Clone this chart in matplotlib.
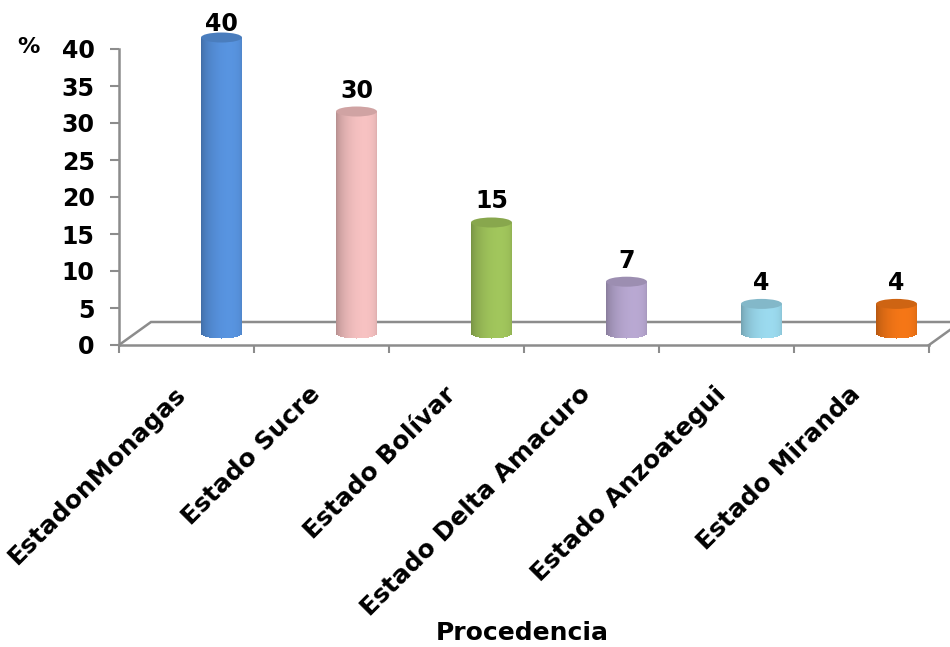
import numpy as np
import matplotlib
matplotlib.use("Agg")
import matplotlib.pyplot as plt
from matplotlib.patches import Ellipse
from matplotlib.colors import to_rgb
from matplotlib.transforms import offset_copy

categories = ["EstadonMonagas", "Estado Sucre", "Estado Bolívar",
              "Estado Delta Amacuro", "Estado Anzoategui", "Estado Miranda"]
values = [40, 30, 15, 7, 4, 4]
colors = ["#5691DC", "#F2BEBE", "#9EC25A", "#B5A5CE", "#98D6EA", "#F07416"]
yticks = [0, 5, 10, 15, 20, 25, 30, 35, 40]

plt.rcParams['font.family'] = ['DejaVu Sans']
plt.rcParams['font.weight'] = 'bold'

W, H = 950, 647
grey = "#8C8C8C"
fig = plt.figure(figsize=(W / 100, H / 100), dpi=100)
ax = fig.add_axes([119 / W, 1 - 345 / H, 810 / W, 296 / H])
ax.set_xlim(-0.5, len(categories) - 0.5)
ax.set_ylim(0, 40)
ppx = 810 / len(categories)   # pixels per category
ppy = 296 / 40                # pixels per percent

for s in ["top", "right"]:
    ax.spines[s].set_visible(False)
for s in ["left", "bottom"]:
    ax.spines[s].set_color(grey)
    ax.spines[s].set_linewidth(1.8)

ax.set_yticks(yticks)
ax.tick_params(axis='y', direction='out', length=6.5, width=1.5, color=grey,
               labelcolor='black', labelsize=17, pad=11)
ax.set_xticks(np.arange(-0.5, len(categories), 1))
ax.set_xticklabels([])
ax.tick_params(axis='x', direction='out', length=6, width=1.5, color=grey)

# 3d floor
dx, dy = 32 / ppx, 23 / ppy
x0, x1 = -0.5, len(categories) - 0.5
ax.plot([x0, x0 + dx, x1 + dx, x1], [0, dy, dy, 0], color=grey, lw=1.8,
        clip_on=False, zorder=1, solid_joinstyle='miter')

# cylinders
bx, by = 35 / ppx, 11.5 / ppy
half = 20.5 / ppx
eh = 5 / ppy
n = 41
edges = np.linspace(-1, 1, n + 1)
uc = (edges[:-1] + edges[1:]) / 2
theta = np.arcsin(uc)
shade = 0.8 + 0.22 * np.cos(theta - 0.4)

for i, (v, c) in enumerate(zip(values, colors)):
    base = np.array(to_rgb(c))
    cols = [tuple(np.clip(base * s, 0, 1)) for s in shade]
    xs = i + bx + uc * half
    bottoms = by - eh * np.sqrt(1 - uc ** 2)
    heights = v + by - bottoms
    ax.bar(xs, heights, width=2 * half / n * 1.1, bottom=bottoms, color=cols,
           linewidth=0, antialiased=False, clip_on=False, zorder=3)
    top = tuple(np.clip(base * 0.86, 0, 1))
    ax.add_patch(Ellipse((i + bx, v + by), 2 * half, 2 * eh, facecolor=top,
                         edgecolor='none', clip_on=False, zorder=4))
    ydisp = ax.transData.transform((i + bx, v + by))[1]
    off = min(14, (H - 31) - ydisp)
    ax.annotate(str(v), xy=(i + bx, v + by), xytext=(0, off),
                textcoords='offset pixels', ha='center', va='baseline',
                fontsize=17, fontweight='bold', annotation_clip=False)

# category labels
lab_tr = offset_copy(ax.transData, fig=fig, x=4, y=-37, units='dots')
for i, lab in enumerate(categories):
    ax.text(i, 0, lab, transform=lab_tr, rotation=45, ha='right', va='top',
            fontsize=18, fontweight='bold')

fig.text(28 / W, 1 - 47 / H, "%", ha='center', va='center', fontsize=16,
         fontweight='bold')
fig.text(522 / W, 1 - 621 / H, "Procedencia", ha='center', va='top',
         fontsize=18, fontweight='bold')

fig.savefig("out.png", dpi=100)
